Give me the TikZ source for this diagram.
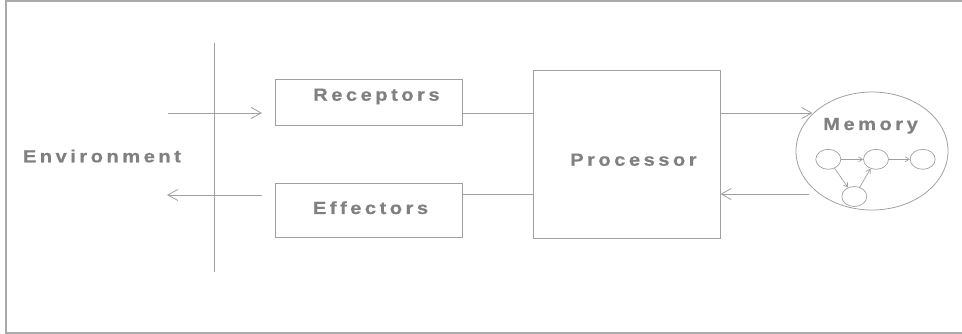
\documentclass[tikz,border=0pt]{standalone}
\usepackage{fontspec}
\setmainfont{Liberation Sans}
\newfontfamily\lblfont{Liberation Sans}[FakeStretch=1.15, LetterSpace=20, FakeBold=0.6]
\usetikzlibrary{arrows.meta,shapes.geometric}
\definecolor{linegray}{HTML}{A0A0A0}
\definecolor{textgray}{HTML}{808080}
\definecolor{framegray}{HTML}{AAAAAA}
\tikzset{
  x=1pt, y=-1pt,
  wire/.style={draw=linegray, line width=0.9pt},
  openarrow/.style={-{Straight Barb[length=10pt,width=11pt,line width=0.8pt]}},
  smallarrow/.style={-{Straight Barb[length=4pt,width=5pt,line width=0.7pt]}},
  blockbox/.style={draw=linegray, line width=0.9pt, rectangle, inner sep=0pt},
  lbl/.style={text=textgray, inner sep=0pt, anchor=base west,
    font=\lblfont\bfseries\fontsize{17.5}{20}\selectfont},
  cell/.style={draw=linegray, line width=0.7pt, ellipse, inner sep=0pt,
    minimum width=25pt, minimum height=20pt},
}
\begin{document}
\begin{tikzpicture}
\useasboundingbox (0,0) rectangle (962,334);
% outer frame (left, top and bottom edges)
\draw[framegray, line width=2pt] (962,1) -- (6,1) -- (6,332.5) -- (962,332.5);

% environment boundary
\coordinate (bt) at (214,43);
\coordinate (bb) at (214,272);
\draw[wire] (bt) -- (bb);
\node[lbl] (env) at (22.7,162.3) {Environment};

% blocks
\node[blockbox, minimum width=187pt, minimum height=46pt] (rec) at (368.7,102.8) {};
\node[blockbox, minimum width=187pt, minimum height=54.5pt] (eff) at (368.7,210.5) {};
\node[blockbox, minimum width=187pt, minimum height=168pt] (proc) at (626.5,154) {};
\node[lbl] (rect) at (313,100.7) {Receptors};
\node[lbl] (efft) at (312.7,214) {Effectors};
\node[lbl] (proct) at (570,165.7) {Processor};

% memory with its small graph
\node[draw=linegray, line width=0.8pt, ellipse, minimum width=152pt, minimum height=118pt] (mem) at (872,151) {};
\node[lbl] (memt) at (823,130) {Memory};
\node[cell] (m1) at (828.3,159.3) {};
\node[cell] (m2) at (876,159.3) {};
\node[cell] (m3) at (922.7,159.3) {};
\node[cell] (m4) at (854.3,196.5) {};
\draw[wire, line width=0.7pt, smallarrow] (m1) -- (m2);
\draw[wire, line width=0.7pt, smallarrow] (m2) -- (m3);
\draw[wire, line width=0.7pt, smallarrow] (m1) -- (m4);
\draw[wire, line width=0.7pt, smallarrow] (m4) -- (m2);

% sensing and acting arrows
\coordinate (inS) at (168,113);
\coordinate (inE) at (262,113);
\coordinate (outS) at (262,195);
\coordinate (outE) at (167,195);
\draw[wire, openarrow] (inS) -- (inE);
\draw[wire, openarrow] (outS) -- (outE);

% block connections
\coordinate (pm) at (812.5,113);
\coordinate (mp) at (809,194);
\draw[wire] (rec.east |- inS) -- (proc.west |- inS);
\draw[wire] (eff.east |- mp) -- (proc.west |- mp);
\draw[wire, openarrow] (proc.east |- pm) -- (pm);
\draw[wire, openarrow] (mp) -- (proc.east |- mp);
\end{tikzpicture}
\end{document}
